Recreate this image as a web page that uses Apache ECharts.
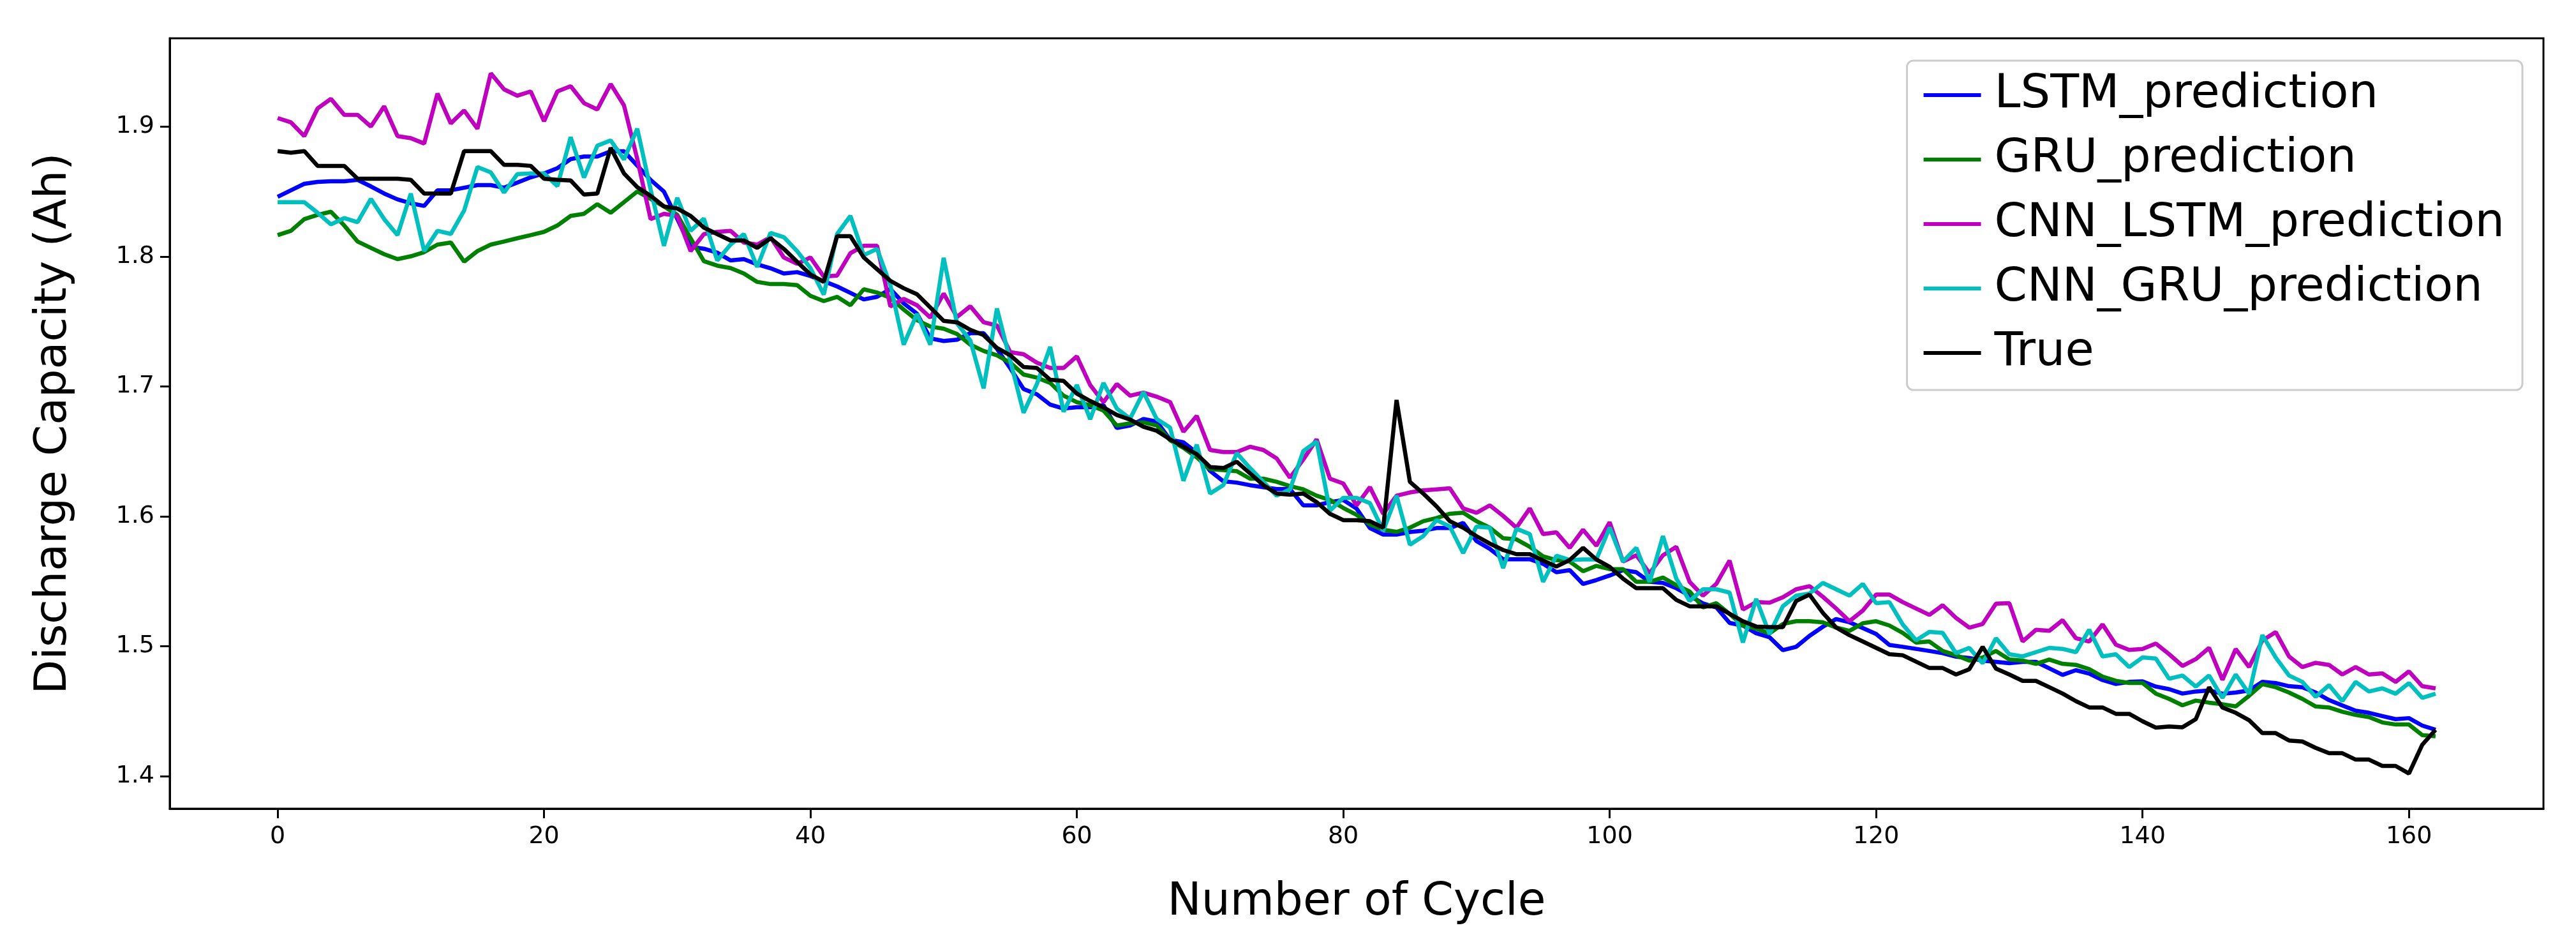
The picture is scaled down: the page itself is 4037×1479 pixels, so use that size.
<!DOCTYPE html>
<html><head><meta charset="utf-8">
<script src="https://cdn.jsdelivr.net/npm/echarts@6/dist/echarts.min.js"></script>
<style>html,body{margin:0;padding:0;background:#fff}#c{width:4037px;height:1479px}</style>
</head><body><div id="c"></div>
<script>
const seriesNames = ["LSTM_prediction","GRU_prediction","CNN_LSTM_prediction","CNN_GRU_prediction","True"];
const xTicks = [0,20,40,60,80,100,120,140,160];
const yTicks = [1.4,1.5,1.6,1.7,1.8,1.9];

const lstm = [1.846,1.851,1.856,1.8575,1.858,1.858,1.859,1.854,1.8485,1.844,1.841,1.839,1.851,1.851,1.853,1.855,1.855,1.853,1.857,1.861,
1.864,1.868,1.875,1.877,1.877,1.881,1.881,1.870,1.859,1.850,1.829,1.8075,1.806,1.803,1.797,1.798,1.794,1.791,1.787,1.788,
1.785,1.781,1.777,1.772,1.767,1.769,1.775,1.764,1.756,1.737,1.735,1.736,1.741,1.741,1.729,1.714,1.698,1.694,1.686,1.683,
1.684,1.684,1.6855,1.668,1.670,1.675,1.673,1.659,1.657,1.649,1.635,1.627,1.626,1.624,1.6225,1.621,1.621,1.6085,1.6085,1.611,
1.6126,1.606,1.591,1.586,1.586,1.588,1.589,1.591,1.591,1.595,1.581,1.575,1.567,1.567,1.567,1.5635,1.557,1.5586,1.548,1.551,
1.5545,1.5586,1.557,1.5496,1.5488,1.5447,1.539,1.533,1.530,1.518,1.516,1.510,1.507,1.497,1.4996,1.508,1.515,1.521,1.5185,1.514,
1.5095,1.501,1.4996,1.498,1.4964,1.4947,1.492,1.491,1.489,1.488,1.487,1.488,1.488,1.483,1.478,1.4816,1.479,1.474,1.471,1.4726,
1.473,1.469,1.467,1.4636,1.4652,1.466,1.4635,1.4644,1.466,1.4726,1.4717,1.4693,1.4685,1.4644,1.4586,1.4545,1.4504,1.4488,1.4463,1.4439,
1.4447,1.439,1.4357];

const gru = [1.8165,1.8198,1.8288,1.8321,1.8345,1.8239,1.8116,1.8067,1.8018,1.798,1.8002,1.8034,1.8092,1.8108,1.7961,1.8042,1.8092,1.8116,1.8141,1.8165,
1.819,1.8239,1.8313,1.8329,1.8403,1.8337,1.8419,1.8501,1.8444,1.8386,1.8321,1.8141,1.7965,1.793,1.7911,1.787,1.7805,1.7788,1.7788,1.778,
1.7698,1.7657,1.769,1.7625,1.7748,1.7723,1.7682,1.7592,1.751,1.7461,1.7445,1.7404,1.7322,1.7273,1.724,1.7183,1.7092,1.7068,1.7027,1.6929,
1.6879,1.6855,1.6814,1.6699,1.6716,1.6724,1.67,1.6585,1.6528,1.6454,1.6364,1.6356,1.6348,1.629,1.629,1.6266,1.6233,1.6208,1.6159,1.6126,
1.6065,1.6012,1.5938,1.5897,1.5881,1.5913,1.5963,1.5987,1.602,1.6028,1.5963,1.5913,1.5832,1.5823,1.5766,1.5692,1.5663,1.5652,1.5578,1.5619,
1.5594,1.5594,1.5496,1.5496,1.5529,1.5471,1.5422,1.5299,1.5332,1.525,1.516,1.5136,1.5099,1.5172,1.5193,1.5193,1.5185,1.5144,1.5119,1.5177,
1.5193,1.516,1.5103,1.5029,1.5037,1.4964,1.4931,1.489,1.4914,1.4964,1.4898,1.489,1.4865,1.4898,1.4865,1.4857,1.4824,1.4767,1.4734,1.4718,
1.4718,1.4636,1.4595,1.4546,1.4582,1.4566,1.4554,1.4537,1.4619,1.4709,1.4685,1.4644,1.4595,1.4537,1.4529,1.4496,1.4472,1.4455,1.4414,1.4398,
1.4398,1.4316,1.4308];

const cnnLstm = [1.9066,1.9033,1.8927,1.914,1.9214,1.9091,1.9091,1.9001,1.9156,1.8927,1.8911,1.887,1.9255,1.9025,1.9124,1.8984,1.941,1.9287,1.9238,1.9271,
1.9042,1.9271,1.9312,1.9181,1.9132,1.9328,1.9164,1.875,1.8288,1.8329,1.8313,1.8042,1.8173,1.819,1.8198,1.8108,1.8092,1.8149,1.7993,1.7944,
1.7993,1.7846,1.7854,1.8026,1.8083,1.8083,1.7616,1.7674,1.7625,1.753,1.7715,1.7535,1.7617,1.7494,1.7469,1.7264,1.7248,1.7183,1.7142,1.7142,
1.7232,1.7011,1.6879,1.7019,1.6929,1.6953,1.6921,1.688,1.6651,1.6773,1.6511,1.6495,1.6495,1.6536,1.6511,1.6446,1.6298,1.6438,1.6593,1.629,
1.6253,1.6085,1.6225,1.602,1.6159,1.6184,1.62,1.6208,1.6216,1.6061,1.6028,1.6085,1.6004,1.5913,1.6061,1.5864,1.5877,1.5758,1.5897,1.5774,
1.5955,1.5652,1.5701,1.5562,1.5701,1.5766,1.5496,1.539,1.548,1.566,1.5283,1.534,1.5336,1.5377,1.5439,1.5463,1.5381,1.5291,1.5193,1.5275,
1.5398,1.5398,1.534,1.5291,1.5242,1.5316,1.5218,1.5144,1.5172,1.5328,1.5332,1.5037,1.5127,1.5119,1.5201,1.5062,1.5037,1.5168,1.5013,1.4972,
1.498,1.5021,1.4939,1.4849,1.4901,1.4988,1.4742,1.4979,1.484,1.5045,1.511,1.4922,1.484,1.4873,1.4857,1.4783,1.484,1.4783,1.4791,1.4726,
1.4807,1.4693,1.4676];

const cnnGru = [1.8419,1.8419,1.8419,1.8337,1.8247,1.8296,1.8264,1.8444,1.8288,1.8165,1.8485,1.8042,1.8198,1.8174,1.8354,1.8689,1.8648,1.8493,1.8635,1.864,
1.864,1.8542,1.8919,1.8608,1.8853,1.8894,1.8747,1.8984,1.8517,1.8083,1.8452,1.8198,1.8292,1.797,1.8092,1.8173,1.792,1.8182,1.8149,1.8042,
1.7911,1.7707,1.8173,1.8313,1.801,1.8059,1.778,1.7322,1.7559,1.7322,1.799,1.7486,1.7354,1.6986,1.76,1.7199,1.6798,1.7019,1.7305,1.6806,
1.7011,1.6748,1.7027,1.683,1.6753,1.6957,1.6749,1.6683,1.6274,1.6552,1.6176,1.6241,1.6487,1.6372,1.6266,1.6159,1.6208,1.6503,1.6577,1.6044,
1.6143,1.6143,1.6102,1.5889,1.6159,1.5782,1.5848,1.5971,1.5922,1.5717,1.5922,1.5913,1.5602,1.5905,1.5864,1.5496,1.5697,1.5664,1.5668,1.5668,
1.5914,1.5652,1.5758,1.5496,1.5848,1.5521,1.5349,1.5439,1.5439,1.5414,1.5029,1.5365,1.5095,1.5308,1.539,1.5406,1.5488,1.5439,1.539,1.548,
1.5332,1.534,1.5168,1.5046,1.5111,1.5103,1.4947,1.4988,1.4869,1.5062,1.4939,1.4922,1.4955,1.4988,1.498,1.4955,1.5127,1.4922,1.4939,1.484,
1.4914,1.4906,1.475,1.4775,1.469,1.4775,1.4603,1.4783,1.4635,1.5086,1.4914,1.4775,1.4726,1.4611,1.4701,1.4578,1.4726,1.4652,1.4676,1.4635,
1.4717,1.4603,1.4635];

const trueVals = [1.8812,1.8799,1.8812,1.8698,1.8698,1.8698,1.8599,1.8599,1.8599,1.8599,1.8591,1.8485,1.8485,1.8485,1.8812,1.8812,1.8812,1.8706,1.8706,1.8698,
1.8599,1.8591,1.8586,1.8477,1.8485,1.8837,1.864,1.8534,1.8468,1.8386,1.837,1.8313,1.8223,1.8173,1.8124,1.8124,1.8067,1.8141,1.8059,1.796,
1.7862,1.7805,1.8157,1.8157,1.7993,1.7903,1.7813,1.7756,1.771,1.7608,1.7505,1.7494,1.7436,1.7395,1.7297,1.724,1.715,1.7142,1.7051,1.7043,
1.6945,1.6888,1.6839,1.6781,1.6745,1.669,1.6659,1.6593,1.6536,1.6479,1.638,1.6372,1.6421,1.6331,1.6241,1.6176,1.6167,1.6176,1.611,1.602,
1.5971,1.5971,1.5963,1.5913,1.6896,1.6266,1.6176,1.6077,1.5963,1.5913,1.5848,1.5791,1.5741,1.5709,1.5709,1.566,1.5614,1.5664,1.5758,1.5668,
1.5611,1.5521,1.5447,1.5447,1.5447,1.5357,1.5308,1.5308,1.5308,1.525,1.5193,1.5152,1.5148,1.5148,1.5349,1.5398,1.5258,1.5144,1.5086,1.5037,
1.4988,1.4939,1.4931,1.4882,1.4833,1.4833,1.4783,1.4824,1.4996,1.4828,1.4783,1.4734,1.4734,1.4685,1.4636,1.4578,1.4529,1.4529,1.448,1.448,
1.4423,1.4374,1.4382,1.4377,1.4439,1.4685,1.4529,1.4488,1.4431,1.4332,1.4332,1.4275,1.4267,1.4218,1.4177,1.4177,1.4128,1.4128,1.4079,1.4079,
1.4021,1.4242,1.4357];

const colors = ["#0000ff","#008000","#bf00bf","#00bfbf","#000000"];
const allData = [lstm, gru, cnnLstm, cnnGru, trueVals];
const FONT = "DejaVu Sans";

const chart = echarts.init(document.getElementById('c'), null, {renderer:'canvas'});
const series = allData.map((arr, k) => ({
  name: seriesNames[k],
  type: 'line',
  data: arr.map((v, i) => [i, v]),
  symbol: 'none',
  showSymbol: false,
  animation: false,
  lineStyle: {color: colors[k], width: 6.5},
  itemStyle: {color: colors[k]},
  z: 2 + k
}));

chart.setOption({
  backgroundColor: '#ffffff',
  animation: false,
  grid: {left: 266, right: 51, top: 60, bottom: 212, show: true, borderColor: '#000', borderWidth: 3, backgroundColor: 'transparent'},
  xAxis: {
    type: 'value', min: -8.1, max: 170.1,
    name: 'Number of Cycle', nameLocation: 'middle', nameGap: 112,
    nameTextStyle: {fontFamily: FONT, fontSize: 71, color: '#000'},
    axisLine: {show: true, onZero: false, lineStyle: {color: '#000', width: 3}},
    axisTick: {show: true, inside: false, length: 15, lineStyle: {color: '#000', width: 3}, customValues: xTicks},
    axisLabel: {fontFamily: FONT, fontSize: 38, color: '#000', margin: 25, customValues: xTicks, formatter: v => String(v)},
    splitLine: {show: false}
  },
  yAxis: {
    type: 'value', min: 1.375, max: 1.968,
    name: 'Discharge Capacity (Ah)', nameLocation: 'middle', nameGap: 146, nameRotate: 90,
    nameTextStyle: {fontFamily: FONT, fontSize: 70, color: '#000'},
    axisLine: {show: true, onZero: false, lineStyle: {color: '#000', width: 3}},
    axisTick: {show: true, inside: false, length: 15, lineStyle: {color: '#000', width: 3}, customValues: yTicks},
    axisLabel: {fontFamily: FONT, fontSize: 38, color: '#000', margin: 24, customValues: yTicks, formatter: v => v.toFixed(1)},
    splitLine: {show: false}
  },
  legend: {
    data: seriesNames.map((n, k) => ({name: n, icon: 'rect', itemStyle: {color: colors[k]}})),
    orient: 'vertical',
    right: 84, top: 95,
    itemWidth: 90, itemHeight: 6,
    itemGap: 21,
    padding: [14, 28, 18, 26],
    backgroundColor: 'rgba(255,255,255,0.8)',
    borderColor: '#cccccc', borderWidth: 3, borderRadius: 10,
    textStyle: {fontFamily: FONT, fontSize: 73.5, color: '#000', lineHeight: 80, padding: [0,0,0,16]}
  },
  series: series
});
</script></body></html>
